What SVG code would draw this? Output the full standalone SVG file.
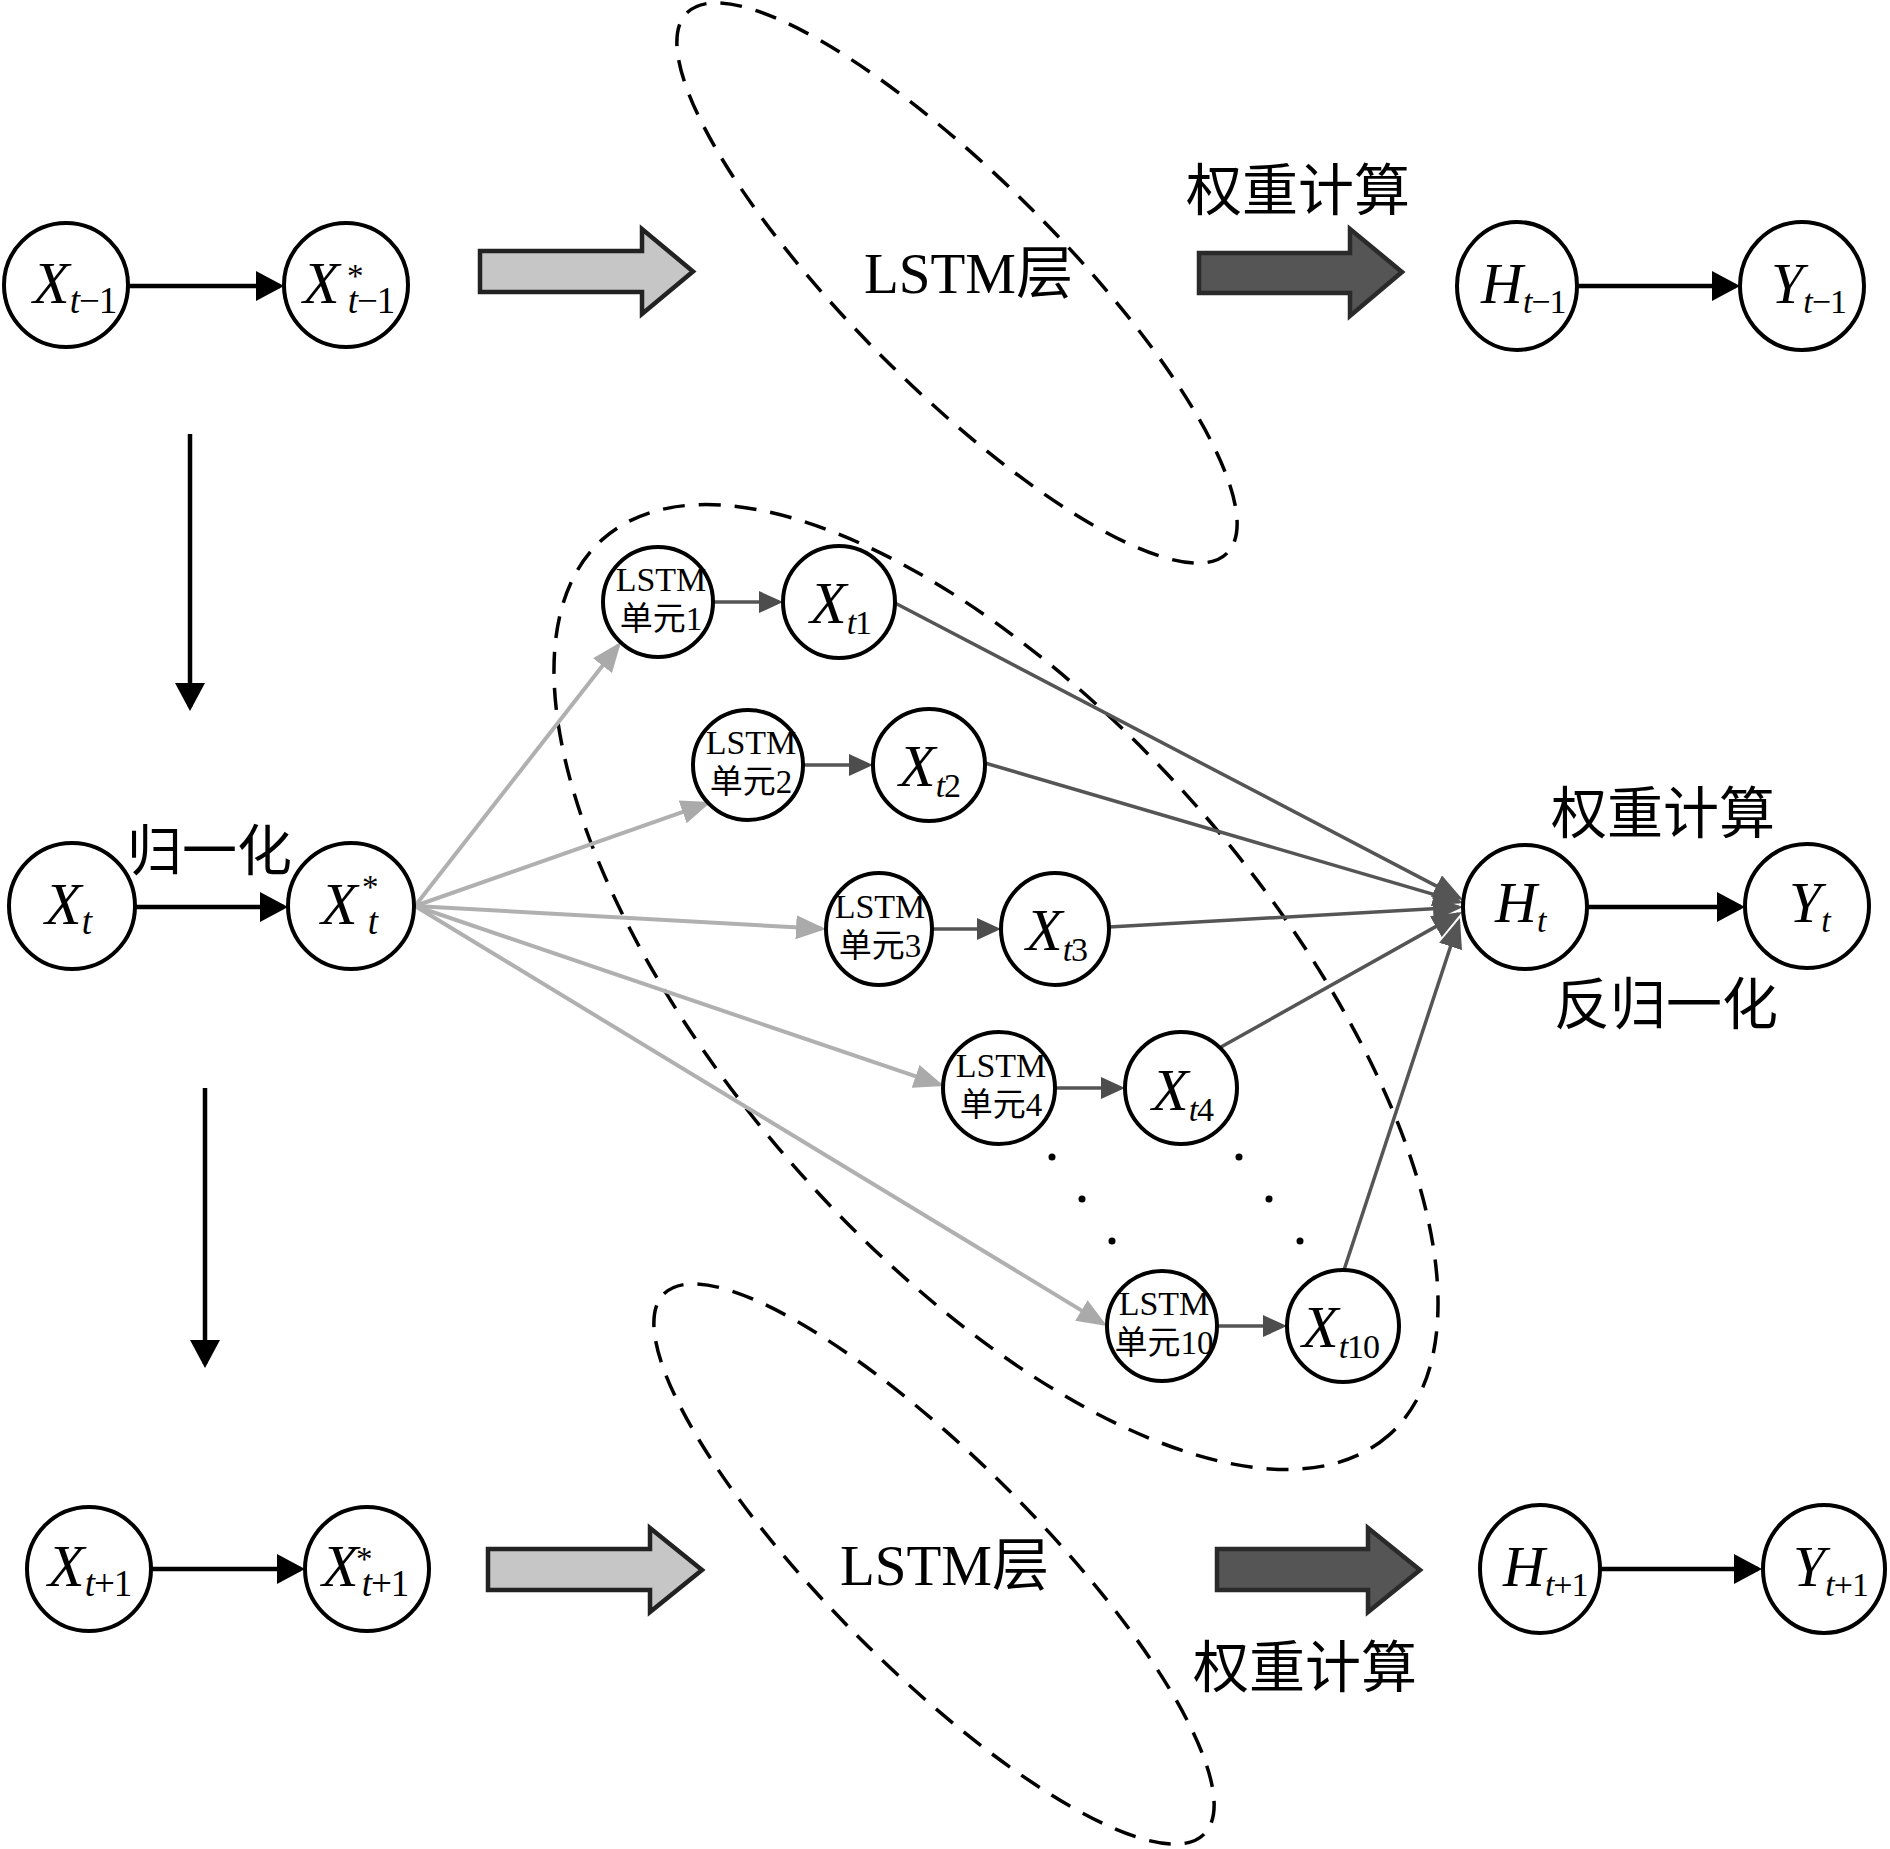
<svg xmlns="http://www.w3.org/2000/svg" width="1890" height="1849" viewBox="0 0 1890 1849">
<defs>
<style>
.n{fill:#fff;stroke:#000;stroke-width:4}
.d{fill:none;stroke:#000;stroke-width:3.5;stroke-dasharray:22 14}
.v{font-family:"Liberation Serif",serif;font-style:italic;font-size:60px;fill:#000}
.h{font-family:"Liberation Serif",serif;font-style:italic;font-size:58px;fill:#000}
.sb{font-size:37px;letter-spacing:-1px}
.sm{font-size:34px;letter-spacing:-1px}
.up{font-style:normal}
.ast{font-family:"Liberation Serif",serif;font-size:33px;fill:#000}
.cn{font-family:"Noto Sans CJK SC",sans-serif;font-size:56px;fill:#000}
.lay{font-family:"Liberation Serif","Noto Sans CJK SC",serif;font-size:57px;fill:#000}
.u{font-family:"Liberation Serif","Noto Sans CJK SC",serif;font-size:34px;text-anchor:middle;fill:#000}
.u2{font-family:"Liberation Serif","Noto Sans CJK SC",serif;font-size:33px;text-anchor:middle;fill:#000}
.kb{stroke:#000;stroke-width:4.5;fill:none}
.kd{stroke:#555;stroke-width:3.5;fill:none}
.kl{stroke:#b0b0b0;stroke-width:4;fill:none}
.bg{fill:#c6c6c6;stroke:#222;stroke-width:4.5;stroke-linejoin:miter}
.bd{fill:#555;stroke:#2a2a2a;stroke-width:4.5;stroke-linejoin:miter}
</style>
<marker id="mb" markerUnits="userSpaceOnUse" markerWidth="28" markerHeight="30" refX="24" refY="15" orient="auto"><path d="M0,0 L28,15 L0,30 z" fill="#000"/></marker>
<marker id="md" markerUnits="userSpaceOnUse" markerWidth="24" markerHeight="22" refX="20" refY="11" orient="auto"><path d="M0,0 L24,11 L0,22 z" fill="#4d4d4d"/></marker>
<marker id="mD" markerUnits="userSpaceOnUse" markerWidth="30" markerHeight="24" refX="26" refY="12" orient="auto"><path d="M0,0 L30,12 L0,24 z" fill="#555"/></marker>
<marker id="ml" markerUnits="userSpaceOnUse" markerWidth="30" markerHeight="24" refX="26" refY="12" orient="auto"><path d="M0,0 L30,12 L0,24 z" fill="#aaa"/></marker>
</defs>
<rect width="1890" height="1849" fill="#fff"/>

<g id="groups">
<ellipse class="d" cx="957" cy="283" rx="382" ry="105" transform="rotate(45 957 283)"/>
<ellipse class="d" cx="996" cy="987" rx="596" ry="270" transform="rotate(48.8 996 987)"/>
<ellipse class="d" cx="934" cy="1564" rx="382" ry="105" transform="rotate(45 934 1564)"/>
</g>

<g id="block-arrows">
<polygon class="bg" points="480,251 642,251 642,229 693,271.5 642,314 642,292 480,292"/>
<polygon class="bd" points="1199,253 1350,253 1350,229 1402,272 1350,316 1350,293 1199,293"/>
<polygon class="bg" points="488,1549 650,1549 650,1528 702,1570 650,1612 650,1590 488,1590"/>
<polygon class="bd" points="1217,1549 1368,1549 1368,1528 1420,1570 1368,1612 1368,1590 1217,1590"/>
</g>

<g id="connectors">
<line class="kb" x1="129" y1="286" x2="280" y2="286" marker-end="url(#mb)"/>
<line class="kb" x1="1578" y1="286" x2="1736" y2="286" marker-end="url(#mb)"/>
<line class="kb" x1="135" y1="907" x2="284" y2="907" marker-end="url(#mb)"/>
<line class="kb" x1="1588" y1="907" x2="1741" y2="907" marker-end="url(#mb)"/>
<line class="kb" x1="151" y1="1569" x2="301" y2="1569" marker-end="url(#mb)"/>
<line class="kb" x1="1601" y1="1569" x2="1758" y2="1569" marker-end="url(#mb)"/>
<line class="kb" x1="190" y1="434" x2="190" y2="707" marker-end="url(#mb)"/>
<line class="kb" x1="205" y1="1088" x2="205" y2="1364" marker-end="url(#mb)"/>

<line class="kl" x1="415" y1="906" x2="618.5" y2="645.2" marker-end="url(#ml)"/>
<line class="kl" x1="415" y1="906" x2="707.2" y2="803.3" marker-end="url(#ml)"/>
<line class="kl" x1="415" y1="906" x2="822" y2="928.8" marker-end="url(#ml)"/>
<line class="kl" x1="415" y1="906" x2="940.2" y2="1084.7" marker-end="url(#ml)"/>
<line class="kl" x1="415" y1="906" x2="1103.6" y2="1323.9" marker-end="url(#ml)"/>

<line class="kd" x1="713" y1="602" x2="779" y2="602" marker-end="url(#md)"/>
<line class="kd" x1="803" y1="765" x2="869" y2="765" marker-end="url(#md)"/>
<line class="kd" x1="932" y1="929" x2="997" y2="929" marker-end="url(#md)"/>
<line class="kd" x1="1055" y1="1088" x2="1121" y2="1088" marker-end="url(#md)"/>
<line class="kd" x1="1217" y1="1326" x2="1283" y2="1326" marker-end="url(#md)"/>

<line class="kd" x1="895" y1="603" x2="1459.5" y2="898.1" marker-end="url(#mD)"/>
<line class="kd" x1="985" y1="763" x2="1459.2" y2="901.9" marker-end="url(#mD)"/>
<line class="kd" x1="1109" y1="927" x2="1459" y2="907.2" marker-end="url(#mD)"/>
<line class="kd" x1="1221" y1="1047" x2="1458.5" y2="913.9" marker-end="url(#mD)"/>
<line class="kd" x1="1344" y1="1270" x2="1458.7" y2="921.8" marker-end="url(#mD)"/>
</g>

<g id="dots" fill="#000">
<circle cx="1052" cy="1157" r="3.5"/><circle cx="1082" cy="1199" r="3.5"/><circle cx="1112" cy="1241" r="3.5"/>
<circle cx="1239" cy="1157" r="3.5"/><circle cx="1269" cy="1199" r="3.5"/><circle cx="1300" cy="1241" r="3.5"/>
</g>

<g id="node-Xtm1"><circle class="n" cx="66" cy="285" r="62"/><text class="v" x="33" y="303">X<tspan class="sb" dy="10">t</tspan><tspan class="sb up">−1</tspan></text></g>
<g id="node-Xstm1"><circle class="n" cx="346" cy="285" r="62"/><text class="v" x="303" y="303">X<tspan class="sb" dx="8" dy="10">t</tspan><tspan class="sb up">−1</tspan></text><text class="ast" x="347" y="287">*</text></g>
<g id="node-Htm1"><ellipse class="n" cx="1517" cy="286" rx="60" ry="64"/><text class="h" x="1481" y="303">H<tspan class="sm" dy="10">t</tspan><tspan class="sm up">−1</tspan></text></g>
<g id="node-Ytm1"><ellipse class="n" cx="1802" cy="286" rx="62" ry="64"/><text class="h" x="1771" y="303">Y<tspan class="sm" dy="10">t</tspan><tspan class="sm up">−1</tspan></text></g>

<g id="node-Xt"><circle class="n" cx="72" cy="906" r="63"/><text class="v" x="45" y="924">X<tspan class="sb" dy="10">t</tspan></text></g>
<g id="node-Xst"><circle class="n" cx="351" cy="906" r="63"/><text class="v" x="321" y="924">X<tspan class="sb" dx="10" dy="10">t</tspan></text><text class="ast" x="362" y="898">*</text></g>
<g id="node-Ht"><circle class="n" cx="1525" cy="907" r="62"/><text class="h" x="1495" y="922">H<tspan class="sm" dy="10">t</tspan></text></g>
<g id="node-Yt"><circle class="n" cx="1807" cy="906" r="62"/><text class="h" x="1789" y="922">Y<tspan class="sm" dy="10">t</tspan></text></g>

<g id="node-Xtp1"><circle class="n" cx="89" cy="1569" r="62"/><text class="v" x="48" y="1586">X<tspan class="sb" dy="10">t</tspan><tspan class="sb up">+1</tspan></text></g>
<g id="node-Xstp1"><circle class="n" cx="367" cy="1569" r="62"/><text class="v" x="322" y="1586">X<tspan class="sb" dx="3" dy="10">t</tspan><tspan class="sb up">+1</tspan></text><text class="ast" x="356" y="1570">*</text></g>
<g id="node-Htp1"><ellipse class="n" cx="1540" cy="1569" rx="60" ry="64"/><text class="h" x="1503" y="1586">H<tspan class="sm" dy="10">t</tspan><tspan class="sm up">+1</tspan></text></g>
<g id="node-Ytp1"><ellipse class="n" cx="1824" cy="1569" rx="61" ry="64"/><text class="h" x="1793" y="1586">Y<tspan class="sm" dy="10">t</tspan><tspan class="sm up">+1</tspan></text></g>

<g id="node-L1"><circle class="n" cx="658" cy="602" r="55"/><text class="u" x="661" y="591">LSTM</text><text class="u2" x="661" y="630">单元1</text></g>
<g id="node-Xt1"><circle class="n" cx="839" cy="602" r="56"/><text class="v" x="810" y="623">X<tspan class="sm" dy="11">t</tspan><tspan class="sm up">1</tspan></text></g>
<g id="node-L2"><circle class="n" cx="748" cy="765" r="55"/><text class="u" x="751" y="754">LSTM</text><text class="u2" x="751" y="793">单元2</text></g>
<g id="node-Xt2"><circle class="n" cx="929" cy="765" r="56"/><text class="v" x="899" y="786">X<tspan class="sm" dy="11">t</tspan><tspan class="sm up">2</tspan></text></g>
<g id="node-L3"><ellipse class="n" cx="879" cy="929" rx="53" ry="56"/><text class="u" x="880" y="918">LSTM</text><text class="u2" x="880" y="957">单元3</text></g>
<g id="node-Xt3"><ellipse class="n" cx="1055" cy="929" rx="54" ry="56"/><text class="v" x="1026" y="950">X<tspan class="sm" dy="11">t</tspan><tspan class="sm up">3</tspan></text></g>
<g id="node-L4"><circle class="n" cx="999" cy="1088" r="56"/><text class="u" x="1001" y="1077">LSTM</text><text class="u2" x="1001" y="1116">单元4</text></g>
<g id="node-Xt4"><circle class="n" cx="1181" cy="1088" r="56"/><text class="v" x="1152" y="1110">X<tspan class="sm" dy="11">t</tspan><tspan class="sm up">4</tspan></text></g>
<g id="node-L10"><circle class="n" cx="1162" cy="1326" r="55"/><text class="u" x="1164" y="1315">LSTM</text><text class="u2" x="1164" y="1354">单元10</text></g>
<g id="node-Xt10"><circle class="n" cx="1343" cy="1326" r="56"/><text class="v" x="1302" y="1347">X<tspan class="sm" dy="11">t</tspan><tspan class="sm up">10</tspan></text></g>

<g id="labels">
<text class="lay" x="864" y="293">LSTM层</text>
<text class="lay" x="840" y="1585">LSTM层</text>
<text class="cn" x="1186" y="210">权重计算</text>
<text class="cn" x="1551" y="833">权重计算</text>
<text class="cn" x="1554" y="1024">反归一化</text>
<text class="cn" x="1193" y="1687">权重计算</text>
<text class="cn" x="127" y="870" style="font-size:55px">归一化</text>
</g>
</svg>
